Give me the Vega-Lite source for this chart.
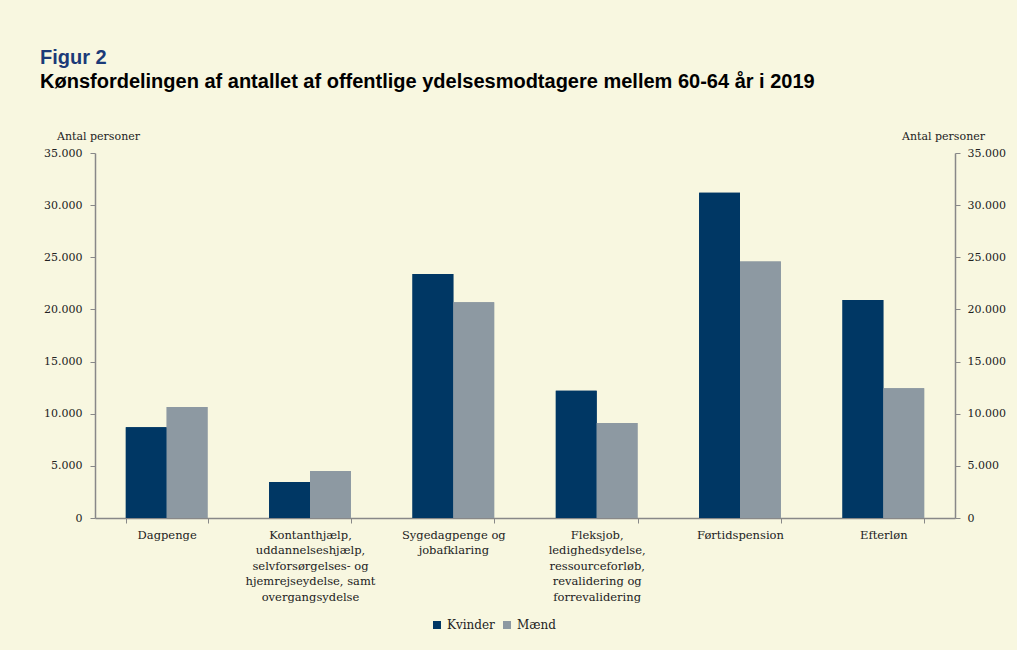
{
  "$schema": "https://vega.github.io/schema/vega-lite/v6.json",
  "width": 860,
  "height": 365,
  "autosize": "none",
  "padding": {"left": 95, "top": 153, "right": 62, "bottom": 132},
  "background": "#f8f7e0",
  "title": {
    "text": "Figur 2",
    "subtitle": "Kønsfordelingen af antallet af offentlige ydelsesmodtagere mellem 60-64 år i 2019",
    "anchor": "start",
    "frame": "group",
    "dx": -55,
    "offset": 38,
    "font": "Liberation Sans",
    "fontSize": 20,
    "fontWeight": "bold",
    "color": "#1b3a78",
    "subtitleFont": "Liberation Sans",
    "subtitleFontSize": 20,
    "subtitleFontWeight": "bold",
    "subtitleColor": "#000000",
    "subtitlePadding": 4
  },
  "data": {
    "values": [
      {"kategori": "Dagpenge", "køn": "Kvinder", "antal": 8700},
      {"kategori": "Dagpenge", "køn": "Mænd", "antal": 10650},
      {"kategori": "Kontanthjælp,|uddannelseshjælp,|selvforsørgelses- og|hjemrejseydelse, samt|overgangsydelse", "køn": "Kvinder", "antal": 3450},
      {"kategori": "Kontanthjælp,|uddannelseshjælp,|selvforsørgelses- og|hjemrejseydelse, samt|overgangsydelse", "køn": "Mænd", "antal": 4500},
      {"kategori": "Sygedagpenge og|jobafklaring", "køn": "Kvinder", "antal": 23400},
      {"kategori": "Sygedagpenge og|jobafklaring", "køn": "Mænd", "antal": 20700},
      {"kategori": "Fleksjob,|ledighedsydelse,|ressourceforløb,|revalidering og|forrevalidering", "køn": "Kvinder", "antal": 12200},
      {"kategori": "Fleksjob,|ledighedsydelse,|ressourceforløb,|revalidering og|forrevalidering", "køn": "Mænd", "antal": 9100},
      {"kategori": "Førtidspension", "køn": "Kvinder", "antal": 31200},
      {"kategori": "Førtidspension", "køn": "Mænd", "antal": 24600},
      {"kategori": "Efterløn", "køn": "Kvinder", "antal": 20900},
      {"kategori": "Efterløn", "køn": "Mænd", "antal": 12450}
    ]
  },
  "encoding": {
    "x": {
      "field": "kategori",
      "type": "nominal",
      "sort": null,
      "scale": {"paddingInner": 0.43, "paddingOuter": 0.215},
      "axis": {
        "title": null,
        "labelAngle": 0,
        "labelExpr": "split(datum.label, '|')",
        "labelFont": "DejaVu Serif",
        "labelFontSize": 11.5,
        "labelColor": "#222222",
        "labelLineHeight": 15.5,
        "labelPadding": 6,
        "labelLimit": 300,
        "tickBand": "extent",
        "tickSize": 5,
        "tickColor": "#888888",
        "domainColor": "#888888",
        "domainWidth": 1.5
      }
    },
    "xOffset": {"field": "køn", "type": "nominal", "sort": ["Kvinder", "Mænd"]},
    "color": {
      "field": "køn",
      "type": "nominal",
      "sort": ["Kvinder", "Mænd"],
      "scale": {"domain": ["Kvinder", "Mænd"], "range": ["#003764", "#8d99a2"]},
      "legend": {
        "title": null,
        "orient": "none",
        "legendX": 336,
        "legendY": 466,
        "direction": "horizontal",
        "symbolType": "square",
        "symbolSize": 64,
        "labelFont": "DejaVu Serif",
        "labelFontSize": 12,
        "labelColor": "#222222",
        "columnPadding": 6
      }
    }
  },
  "layer": [
    {
      "mark": {"type": "bar"},
      "encoding": {
        "y": {
          "field": "antal",
          "type": "quantitative",
          "scale": {"domain": [0, 35000]},
          "axis": {
            "orient": "left",
            "values": [0, 5000, 10000, 15000, 20000, 25000, 30000, 35000],
            "labelExpr": "replace(format(datum.value, ','), ',', '.')",
            "grid": false,
            "title": "Antal personer",
            "titleAngle": 0,
            "titleAlign": "center",
            "titleBaseline": "alphabetic",
            "titleX": 3,
            "titleY": -14,
            "titleFont": "DejaVu Serif",
            "titleFontSize": 11,
            "titleFontWeight": "normal",
            "titleColor": "#222222",
            "labelFont": "DejaVu Serif",
            "labelFontSize": 11,
            "labelColor": "#222222",
            "labelPadding": 8,
            "tickSize": 5,
            "tickColor": "#888888",
            "domainColor": "#888888",
            "domainWidth": 1.5
          }
        }
      }
    },
    {
      "mark": {"type": "bar"},
      "encoding": {
        "y": {
          "field": "antal",
          "type": "quantitative",
          "scale": {"domain": [0, 35000]},
          "axis": {
            "orient": "right",
            "values": [0, 5000, 10000, 15000, 20000, 25000, 30000, 35000],
            "labelExpr": "replace(format(datum.value, ','), ',', '.')",
            "grid": false,
            "title": "Antal personer",
            "titleAngle": 0,
            "titleAlign": "center",
            "titleBaseline": "alphabetic",
            "titleX": -12,
            "titleY": -14,
            "titleFont": "DejaVu Serif",
            "titleFontSize": 11,
            "titleFontWeight": "normal",
            "titleColor": "#222222",
            "labelFont": "DejaVu Serif",
            "labelFontSize": 11,
            "labelColor": "#222222",
            "labelPadding": 7,
            "tickSize": 5,
            "tickColor": "#888888",
            "domainColor": "#888888",
            "domainWidth": 1.5
          }
        }
      }
    }
  ],
  "resolve": {"axis": {"y": "independent"}},
  "config": {"view": {"stroke": null}}
}
